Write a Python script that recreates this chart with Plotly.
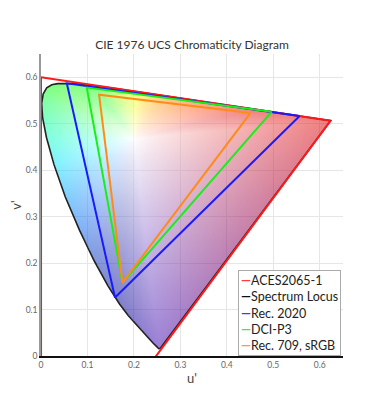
import numpy as np
import plotly.graph_objects as go

# CIE 1931 2-degree spectrum locus chromaticities (x, y), 380-700 nm
locus_nm = [380, 385, 390, 395, 400, 405, 410, 415, 420, 425, 430, 435, 440, 445, 450,
            455, 460, 465, 470, 475, 480, 485, 490, 495, 500, 505, 510, 515, 520, 525,
            530, 535, 540, 545, 550, 555, 560, 565, 570, 575, 580, 585, 590, 595, 600,
            605, 610, 615, 620, 625, 630, 635, 640, 645, 650, 655, 660, 665, 670, 675,
            680, 690, 700]
locus_x = [0.17411, 0.17401, 0.17380, 0.17356, 0.17334, 0.17302, 0.17258, 0.17209, 0.17141,
           0.17030, 0.16888, 0.16690, 0.16441, 0.16110, 0.15664, 0.15099, 0.14396, 0.13550,
           0.12412, 0.10959, 0.09129, 0.06871, 0.04539, 0.02346, 0.00817, 0.00386, 0.01387,
           0.03885, 0.07430, 0.11416, 0.15472, 0.19288, 0.22962, 0.26578, 0.30160, 0.33736,
           0.37310, 0.40874, 0.44406, 0.47877, 0.51249, 0.54479, 0.57515, 0.60293, 0.62704,
           0.64823, 0.66576, 0.68008, 0.69150, 0.70061, 0.70792, 0.71403, 0.71903, 0.72303,
           0.72599, 0.72827, 0.72997, 0.73109, 0.73199, 0.73272, 0.73342, 0.73439, 0.73469]
locus_y = [0.00496, 0.00498, 0.00492, 0.00492, 0.00480, 0.00478, 0.00480, 0.00483, 0.00510,
           0.00579, 0.00690, 0.00856, 0.01086, 0.01379, 0.01771, 0.02274, 0.02970, 0.03988,
           0.05780, 0.08684, 0.13270, 0.20072, 0.29498, 0.41270, 0.53842, 0.65482, 0.75019,
           0.81202, 0.83380, 0.82621, 0.80586, 0.78163, 0.75433, 0.72432, 0.69231, 0.65885,
           0.62445, 0.58961, 0.55471, 0.52020, 0.48659, 0.45443, 0.42423, 0.39650, 0.37249,
           0.35139, 0.33401, 0.31975, 0.30834, 0.29930, 0.29203, 0.28593, 0.28093, 0.27695,
           0.27401, 0.27173, 0.27003, 0.26891, 0.26801, 0.26728, 0.26658, 0.26561, 0.26531]

white_xy = [0.3127, 0.3290]  # D65

# Gamut primaries (CIE 1931 x, y): R, G, B
gamut_names = ["ACES2065-1", "Rec. 2020", "DCI-P3", "Rec. 709, sRGB"]
gamut_x = [[0.7347, 0.0000, 0.0001], [0.708, 0.170, 0.131], [0.680, 0.265, 0.150], [0.640, 0.300, 0.150]]
gamut_y = [[0.2653, 1.0000, -0.0770], [0.292, 0.797, 0.046], [0.320, 0.690, 0.060], [0.330, 0.600, 0.060]]
gamut_colors = ["#ff1a1a", "#1a1aff", "#1aee1a", "#ff8c1a"]

legend_names = ["ACES2065-1", "Spectrum Locus", "Rec. 2020", "DCI-P3", "Rec. 709, sRGB"]
legend_colors = ["#ff3b3b", "#111111", "#3b3bff", "#3bee3b", "#ff9933"]

tick_vals = [0, 0.1, 0.2, 0.3, 0.4, 0.5, 0.6]
axis_range = [0, 0.65]


def xy_to_uv(x, y):
    x = np.asarray(x, float)
    y = np.asarray(y, float)
    d = -2 * x + 12 * y + 3
    return 4 * x / d, 9 * y / d


def xy_to_display(x, y):
    x = np.asarray(x, float)
    y = np.maximum(np.asarray(y, float), 1e-4)
    X = x / y
    Z = (1 - x - y) / y
    M = np.array([[3.2406, -1.5372, -0.4986], [-0.9689, 1.8758, 0.0415], [0.0557, -0.2040, 1.0570]])
    rgb = np.stack([M[k, 0] * X + M[k, 1] + M[k, 2] * Z for k in range(3)], axis=-1)
    rgb = np.clip(rgb, 0, None)
    rgb = rgb / np.maximum(rgb.max(axis=-1, keepdims=True), 1e-9)
    lum = 0.2126 * rgb[..., 0] + 0.7152 * rgb[..., 1] + 0.0722 * rgb[..., 2]
    rgb = rgb ** (1 / 1.6)
    fac = np.clip(0.45 + 2.0 * lum, 0, 1)[..., None]
    return rgb * fac


lu, lv = xy_to_uv(locus_x, locus_y)
wu, wv = xy_to_uv(*white_xy)

# boundary: spectral locus + line of purples, with display colours
spec_cols = xy_to_display(locus_x, locus_y)
n_p = 60
tp = np.linspace(0, 1, n_p + 2)[1:-1]
pu = lu[-1] + (lu[0] - lu[-1]) * tp
pv = lv[-1] + (lv[0] - lv[-1]) * tp
pcols = spec_cols[-1][None, :] * (1 - tp[:, None]) + spec_cols[0][None, :] * tp[:, None]
bu = np.concatenate([lu, pu])
bv = np.concatenate([lv, pv])
bcols = np.concatenate([spec_cols, pcols])
ang = np.arctan2(bv - wv, bu - wu)
rad = np.hypot(bu - wu, bv - wv)
order = np.argsort(ang)
ang, rad, bcols = ang[order], rad[order], bcols[order]
ang = np.concatenate([ang[-1:] - 2 * np.pi, ang, ang[:1] + 2 * np.pi])
rad = np.concatenate([rad[-1:], rad, rad[:1]])
bcols = np.concatenate([bcols[-1:], bcols, bcols[:1]])

step = 0.0021
gu = np.arange(0, 0.65 + step, step)
gv = np.arange(0, 0.65 + step, step)
U, V = np.meshgrid(gu, gv)


def inside(px, py, vx, vy):
    res = np.zeros(px.shape, bool)
    n = len(vx)
    j = n - 1
    for i in range(n):
        xi, yi, xj, yj = vx[i], vy[i], vx[j], vy[j]
        cond = ((yi > py) != (yj > py))
        xint = (xj - xi) * (py - yi) / (yj - yi + 1e-15) + xi
        res ^= cond & (px < xint)
        j = i
    return res


mask = inside(U, V, lu, lv)
pa = np.arctan2(V - wv, U - wu)
pr = np.hypot(U - wu, V - wv)
rb = np.interp(pa, ang, rad)
t = np.clip(pr / rb, 0, 1) ** 0.85
cb = np.stack([np.interp(pa, ang, bcols[:, k]) for k in range(3)], axis=-1)
col = (1 - t[..., None]) * 1.0 + t[..., None] * cb
col = np.round(col * 255)
alpha = np.where(mask, 0.5, 0.0)
img = np.concatenate([col, alpha[..., None]], axis=-1)
img[~mask] = [255, 255, 255, 0]

fig = go.Figure()
fig.add_trace(go.Image(z=img.tolist(), colormodel="rgba", x0=0, dx=step, y0=0, dy=step,
                       hoverinfo="skip"))

fig.add_trace(go.Scatter(x=np.append(lu, lu[0]), y=np.append(lv, lv[0]), mode="lines",
                         name="Spectrum Locus", line=dict(color="#222222", width=1.6),
                         hoverinfo="skip"))

for name, gx, gy, c in zip(gamut_names, gamut_x, gamut_y, gamut_colors):
    u, v = xy_to_uv(gx, gy)
    u = np.append(u, u[0])
    v = np.append(v, v[0])
    fig.add_trace(go.Scatter(x=u, y=v, mode="lines", name=name,
                             line=dict(color=c, width=2), hoverinfo="skip"))

legend_text = "<br>".join(
    f"<span style='color:{c}'><b>\u2014</b></span>{n}" for n, c in zip(legend_names, legend_colors))
fig.add_annotation(text=legend_text, xref="paper", yref="paper", x=0.993, y=0.0,
                   xanchor="right", yanchor="bottom", align="left", showarrow=False,
                   bgcolor="white", bordercolor="#aaaaaa", borderwidth=1, borderpad=2,
                   font=dict(size=12.5, color="#222222", family="Lato"))

fig.update_layout(
    width=370, height=392, autosize=False,
    margin=dict(l=33, r=35, t=46, b=44),
    paper_bgcolor="white", plot_bgcolor="white",
    showlegend=False,
    font=dict(family="Lato", color="#444444"),
    title=dict(text="CIE 1976 UCS Chromaticity Diagram", x=0.5, xref="paper",
               y=1 - 37 / 392, yanchor="middle", font=dict(size=12, color="#333333")),
    xaxis=dict(range=axis_range, tickvals=tick_vals, showgrid=True, gridcolor="#e6e6e6",
               zeroline=False, showline=True, linecolor="#111111", linewidth=2,
               tickfont=dict(size=8.5, color="#666666"), ticks="", automargin=False,
               title=dict(text="u'", font=dict(size=13, color="#444444"), standoff=5)),
    yaxis=dict(range=axis_range, tickvals=tick_vals, showgrid=True, gridcolor="#e6e6e6",
               zeroline=False, showline=True, linecolor="#999999", linewidth=1.5,
               tickfont=dict(size=8.5, color="#666666"), ticks="", automargin=False,
               title=dict(text="v'", font=dict(size=13, color="#444444"), standoff=2),
               autorange=False),
)

fig.write_html("out.html")
